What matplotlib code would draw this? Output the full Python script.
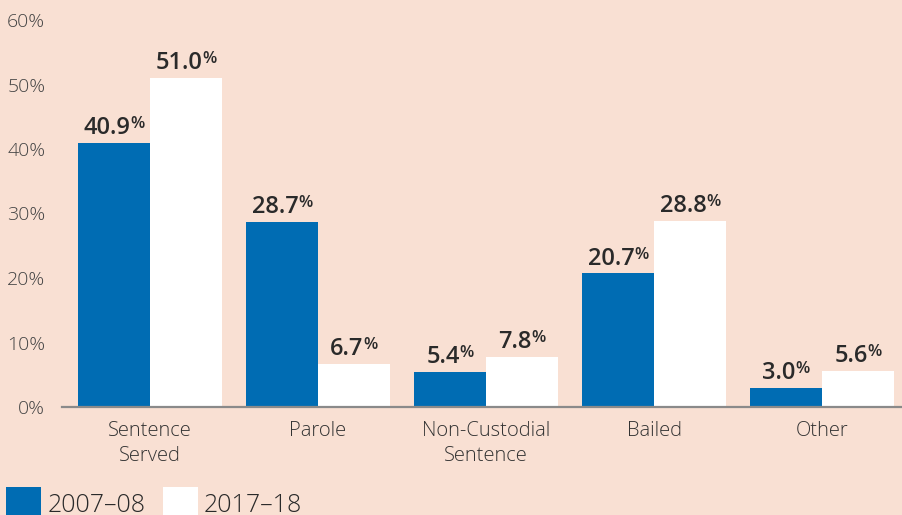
import matplotlib
matplotlib.use("Agg")
import matplotlib.pyplot as plt
import numpy as np
from matplotlib.offsetbox import TextArea, HPacker, AnnotationBbox
from matplotlib.patches import Patch

categories = ["Sentence\nServed", "Parole", "Non-Custodial\nSentence", "Bailed", "Other"]
series_names = ["2007\u201308", "2017\u201318"]
values_2007 = [40.9, 28.7, 5.4, 20.7, 3.0]
values_2017 = [51.0, 6.7, 7.8, 28.8, 5.6]
yticks = [0, 10, 20, 30, 40, 50, 60]

BG = "#f9e0d3"
BLUE = "#006cb3"
WHITE = "#ffffff"
TXT = "#2a2a2a"

plt.rcParams['font.family'] = ['Open Sans', 'DejaVu Sans']

fig = plt.figure(figsize=(9.03, 5.15), dpi=100, facecolor=BG)
ax = fig.add_axes([62/903, 108/515, (903-62)/903, (407-20)/515])
ax.set_facecolor(BG)

x = np.arange(len(categories))
w = 0.4286
ax.bar(x - w/2, values_2007, width=w, color=BLUE, label=series_names[0])
ax.bar(x + w/2, values_2017, width=w, color=WHITE, label=series_names[1])

ax.set_xlim(-0.524, 4.482)
ax.set_ylim(0, 60)
ax.set_yticks(yticks)
ax.set_yticklabels([f"{t}%" for t in yticks], color="#444444", fontsize=14, fontweight='light')
ax.set_xticks(x)
ax.set_xticklabels(categories, color="#333333", fontsize=14.5, fontweight='light', linespacing=1.32)
ax.tick_params(axis='y', length=0, pad=12)
ax.tick_params(axis='x', length=0, pad=10)
for s in ["left", "right", "top"]:
    ax.spines[s].set_visible(False)
ax.spines["bottom"].set_color("#8a8a8a")
ax.spines["bottom"].set_linewidth(1.6)

def add_label(xc, val):
    num = TextArea(f"{val:.1f}", textprops=dict(fontsize=17, fontweight='semibold', color=TXT))
    pct = TextArea("%", textprops=dict(fontsize=12, fontweight='semibold', color=TXT))
    box = HPacker(children=[num, pct], align="top", pad=0, sep=0)
    ab = AnnotationBbox(box, (xc, val), xybox=(0, 2), xycoords='data',
                        boxcoords="offset points", box_alignment=(0.5, 0.0),
                        frameon=False, pad=0, annotation_clip=False)
    ax.add_artist(ab)

for xi, v in zip(x - w/2, values_2007):
    add_label(xi, v)
for xi, v in zip(x + w/2, values_2017):
    add_label(xi, v)

handles = [Patch(facecolor=BLUE), Patch(facecolor=WHITE)]
fig.legend(handles, series_names, loc="upper left", bbox_to_anchor=(6/903, 1 - 487/515),
           frameon=False, handlelength=1.4, handleheight=1.72,
           handletextpad=0.25, columnspacing=0.7, ncol=2, borderpad=0, borderaxespad=0,
           labelcolor=TXT, prop=dict(weight='light', size=18))

fig.savefig("out.png", dpi=100, facecolor=BG)
